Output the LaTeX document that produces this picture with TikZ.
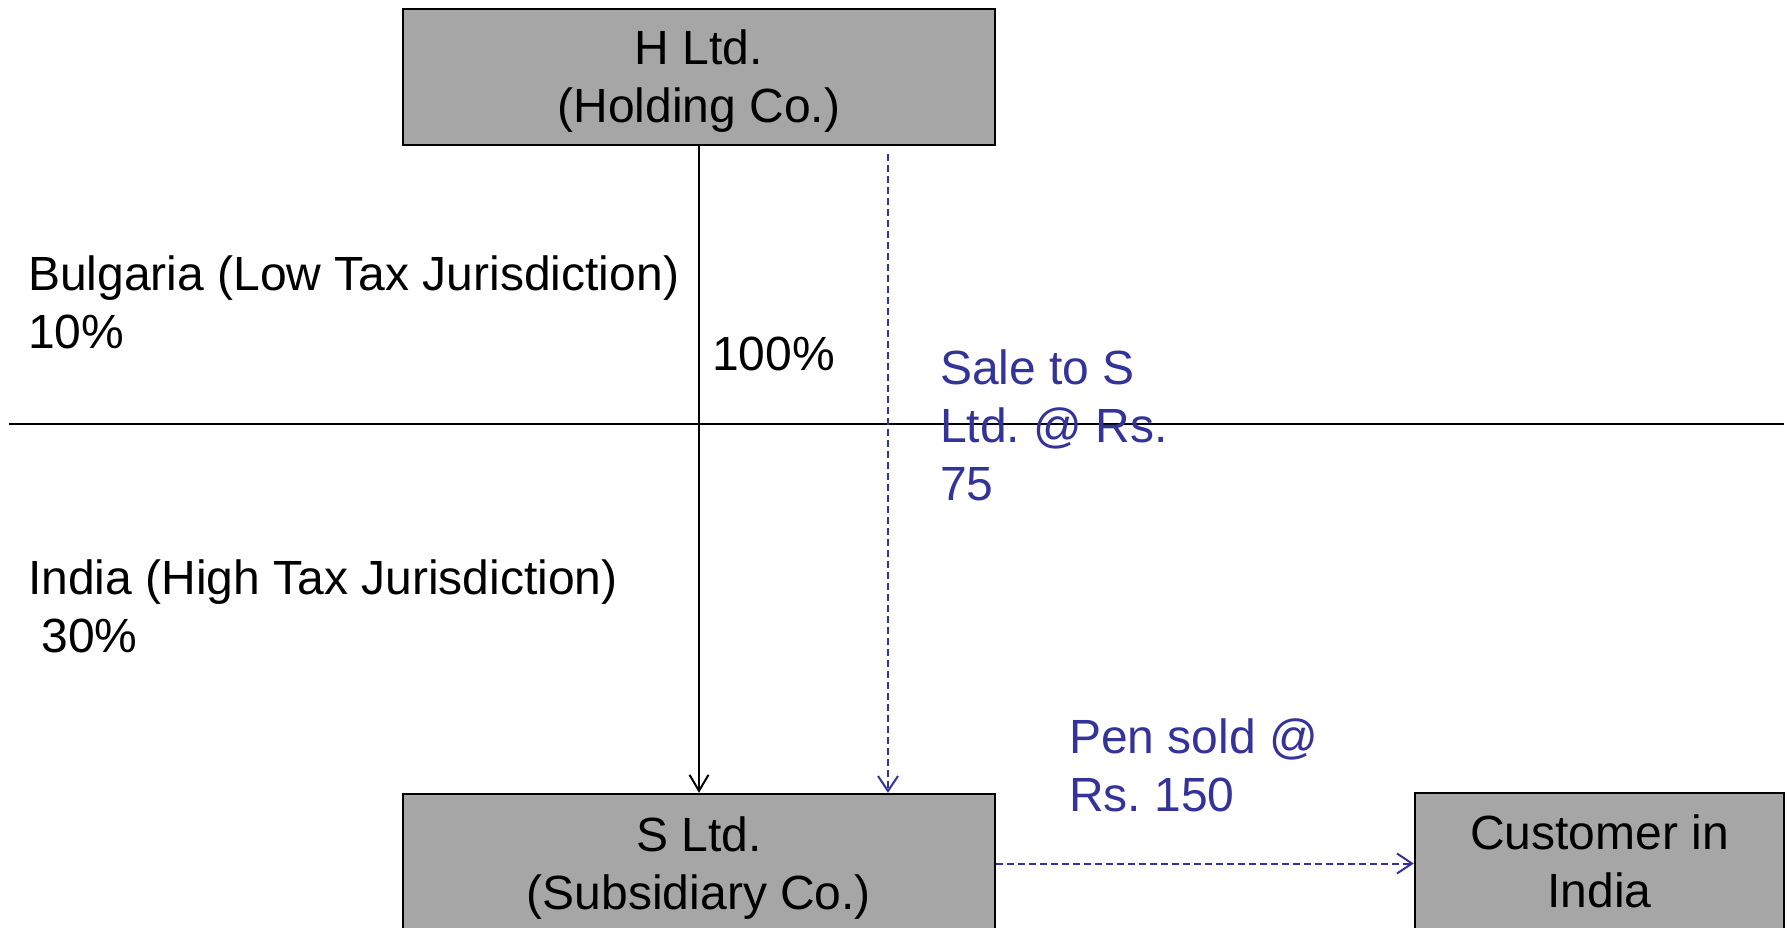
\documentclass[tikz,border=0pt]{standalone}
\usepackage{fontspec}
\setmainfont{Liberation Sans}
\usetikzlibrary{arrows.meta}
\definecolor{boxgray}{HTML}{A6A6A6}
\definecolor{flowblue}{HTML}{333399}
% raises the first line of a box so the two-line label sits a little lower
\newcommand{\toplift}{\rule{0pt}{43.5pt}}
\begin{document}
\begin{tikzpicture}[x=1pt,y=-1pt,
  every node/.style={font=\fontsize{48}{58}\selectfont\frenchspacing, inner sep=0pt},
  entity/.style={draw=black, line width=2.4pt, fill=boxgray, align=center},
  note/.style={anchor=west, align=left},
  flownote/.style={note, text=flowblue},
  owns/.style={draw=black, line width=2pt, -{Straight Barb[length=16pt,width=19pt,line width=2pt]}},
  flow/.style={draw=flowblue, line width=2pt, dash pattern=on 7pt off 4pt,
    -{Straight Barb[length=15pt,width=20pt,line width=2pt]}},
  border/.style={draw=black, line width=2.2pt}]
\useasboundingbox (0,0) rectangle (1787,928);

% companies
\node[entity, minimum width=592pt, minimum height=136pt] (H) at (699,77) {\toplift H Ltd.\\(Holding Co.)};
\node[entity, minimum width=592pt, minimum height=139pt] (S) at (699,863.5) {\toplift S Ltd.\\(Subsidiary Co.)};
\node[entity, minimum width=369pt, minimum height=137pt] (C) at (1599.5,861.5) {Customer in\\India};

% jurisdiction boundary
\coordinate (bL) at (9,424);
\coordinate (bR) at (1784,424);
\draw[border] (bL) -- (bR);

% jurisdiction labels
\node[note] (bg) at (28,302.5) {Bulgaria (Low Tax Jurisdiction)\\10\%};
\node[note] (in) at (28,606) {India (High Tax Jurisdiction)\\~30\%};

% ownership
\draw[owns] (H.south) -- (S.north);
\node[note] (own) at (712,354) {100\%};

% transactions
\coordinate (saleStart) at (888,154);
\draw[flow] (saleStart) -- (saleStart |- S.north);
\node[flownote] (sale) at (940,425) {Sale to S\\Ltd. @ Rs.\\75};

\draw[flow] (S.east) -- (S.east -| C.west);
\node[flownote] (pen) at (1069,765.5) {Pen sold @\\Rs. 150};
\end{tikzpicture}
\end{document}
